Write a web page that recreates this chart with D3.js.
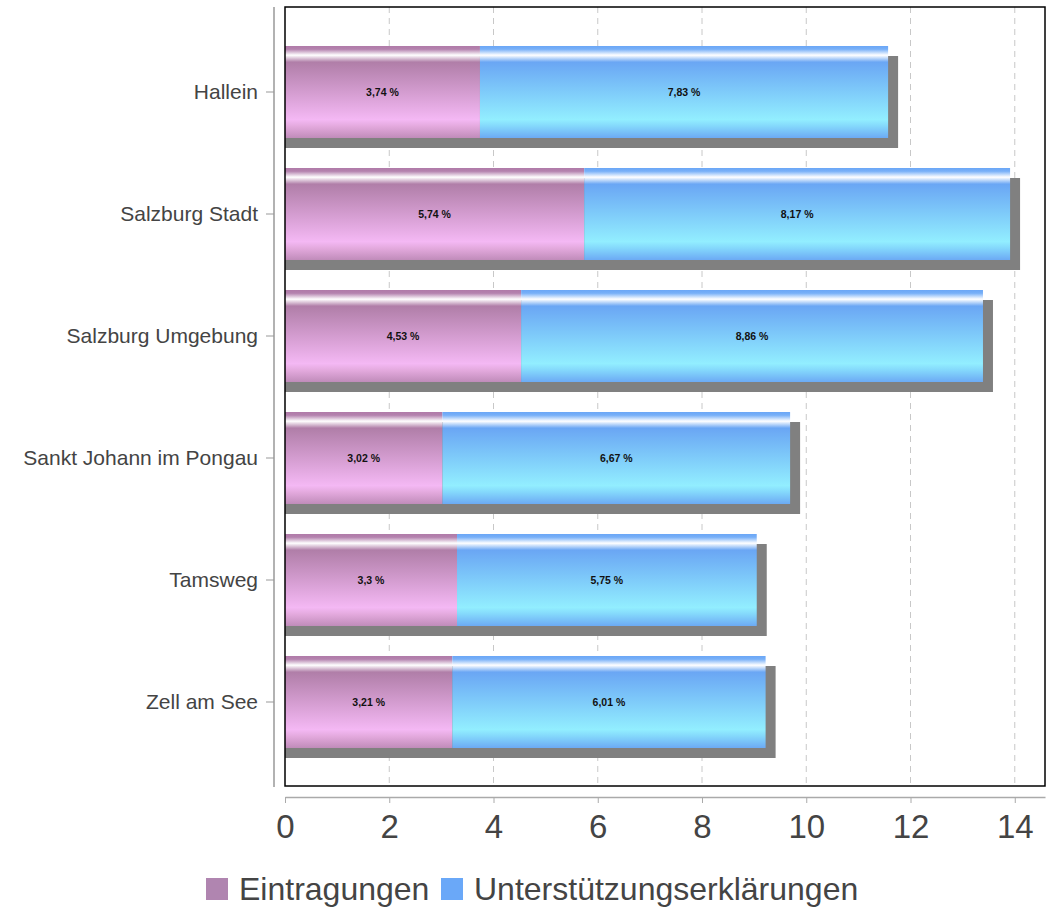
<!DOCTYPE html>
<html>
<head>
<meta charset="utf-8">
<script src="https://cdn.jsdelivr.net/npm/d3@7"></script>
<style>
  html, body { margin: 0; padding: 0; background: #fff; }
  svg { display: block; }
  text { font-family: "Liberation Sans", Arial, sans-serif; }
</style>
</head>
<body>
<svg id="chart" width="1057" height="911"></svg>
<script>
const categories = ["Hallein", "Salzburg Stadt", "Salzburg Umgebung", "Sankt Johann im Pongau", "Tamsweg", "Zell am See"];
const eintragungen = [3.74, 5.74, 4.53, 3.02, 3.3, 3.21];
const unterstuetzung = [7.83, 8.17, 8.86, 6.67, 5.75, 6.01];
const seriesNames = ["Eintragungen", "Unterstützungserklärungen"];
const tickValues = [0, 2, 4, 6, 8, 10, 12, 14];

const svg = d3.select("#chart");
const plot = { left: 285, right: 1045, top: 7, bottom: 786 };

const x = d3.scaleLinear().domain([0, 14.58]).range([plot.left, plot.right]);
const y = d3.scaleBand().domain(categories).range([31, 763]).paddingInner(0.246).paddingOuter(0.123);

// gradients
const defs = svg.append("defs");
function grad(id, stops) {
  const g = defs.append("linearGradient").attr("id", id)
    .attr("x1", 0).attr("y1", 0).attr("x2", 0).attr("y2", 1);
  stops.forEach(s => g.append("stop").attr("offset", s[0]).attr("stop-color", s[1]));
}
grad("gPink", [[0, "#b07aa8"], [0.035, "#b482ae"], [0.1, "#ffffff"], [0.175, "#b07ea8"], [0.8, "#f4b8f4"], [0.87, "#e4aade"], [1, "#c08cba"]]);
grad("gBlue", [[0, "#6aa6f6"], [0.035, "#78b0f8"], [0.1, "#ffffff"], [0.175, "#6aa6f4"], [0.8, "#92eeff"], [0.87, "#84d8fc"], [1, "#6caaf4"]]);

// gridlines
svg.append("g").selectAll("line").data(tickValues.filter(d => d > 0)).join("line")
  .attr("x1", d => x(d)).attr("x2", d => x(d))
  .attr("y1", plot.top).attr("y2", plot.bottom)
  .attr("stroke", "#c8c8c8").attr("stroke-width", 1).attr("stroke-dasharray", "6,5");

// shadows
const totals = categories.map((c, i) => eintragungen[i] + unterstuetzung[i]);
svg.append("g").selectAll("rect").data(categories).join("rect")
  .attr("x", x(0))
  .attr("y", d => y(d) + 10)
  .attr("width", (d, i) => x(totals[i]) - x(0) + 10)
  .attr("height", y.bandwidth())
  .attr("fill", "#808080");

// bars
const gBars = svg.append("g");
gBars.selectAll("rect.p").data(categories).join("rect").attr("class", "p")
  .attr("x", x(0)).attr("y", d => y(d))
  .attr("width", (d, i) => x(eintragungen[i]) - x(0))
  .attr("height", y.bandwidth()).attr("fill", "url(#gPink)");
gBars.selectAll("rect.b").data(categories).join("rect").attr("class", "b")
  .attr("x", (d, i) => x(eintragungen[i])).attr("y", d => y(d))
  .attr("width", (d, i) => x(totals[i]) - x(eintragungen[i]))
  .attr("height", y.bandwidth()).attr("fill", "url(#gBlue)");

const fmt = v => String(v).replace(".", ",") + " %";
const gLab = svg.append("g").attr("font-size", 10.5).attr("font-weight", "bold").attr("fill", "#111").attr("text-anchor", "middle");
gLab.selectAll("text.p").data(categories).join("text").attr("class", "p")
  .attr("x", (d, i) => (x(0) + x(eintragungen[i])) / 2)
  .attr("y", d => y(d) + y.bandwidth() / 2).attr("dy", "0.35em")
  .text((d, i) => fmt(eintragungen[i]));
gLab.selectAll("text.b").data(categories).join("text").attr("class", "b")
  .attr("x", (d, i) => (x(eintragungen[i]) + x(totals[i])) / 2)
  .attr("y", d => y(d) + y.bandwidth() / 2).attr("dy", "0.35em")
  .text((d, i) => fmt(unterstuetzung[i]));

// plot frame
svg.append("rect").attr("x", plot.left).attr("y", plot.top)
  .attr("width", plot.right - plot.left).attr("height", plot.bottom - plot.top)
  .attr("fill", "none").attr("stroke", "#000").attr("stroke-width", 1.5);

// y axis
const yAxis = svg.append("g").attr("transform", "translate(274,0)")
  .call(d3.axisLeft(y).tickSize(8).tickPadding(8).tickSizeOuter(0));
yAxis.select(".domain").remove();
yAxis.append("line").attr("x1", 0).attr("x2", 0).attr("y1", plot.top).attr("y2", plot.bottom + 1)
  .attr("stroke", "#999").attr("stroke-width", 1.5);
yAxis.selectAll(".tick line").attr("stroke", "#999");
yAxis.selectAll(".tick text").attr("font-size", 21).attr("fill", "#444")
  .attr("font-family", "Liberation Sans, Arial, sans-serif");

// x axis
const xAxis = svg.append("g").attr("transform", "translate(0,797)")
  .call(d3.axisBottom(x).tickValues(tickValues).tickSize(6).tickSizeOuter(0).tickPadding(12).tickFormat(d3.format("d")));
xAxis.select(".domain").attr("stroke", "#aaa").attr("stroke-width", 1.5);
xAxis.selectAll(".tick line").attr("stroke", "#aaa");
xAxis.selectAll(".tick text").attr("font-size", 33).attr("fill", "#444")
  .attr("font-family", "Liberation Sans, Arial, sans-serif");

// legend
const legendColors = ["#b085b0", "#6aa8f8"];
const legX = [206, 441];
const leg = svg.append("g");
seriesNames.forEach((n, i) => {
  leg.append("rect").attr("x", legX[i]).attr("y", 878).attr("width", 22).attr("height", 22).attr("fill", legendColors[i]);
  leg.append("text").attr("x", legX[i] + 33).attr("y", 900).attr("font-size", 32).attr("fill", "#444").text(n);
});
</script>
</body>
</html>
